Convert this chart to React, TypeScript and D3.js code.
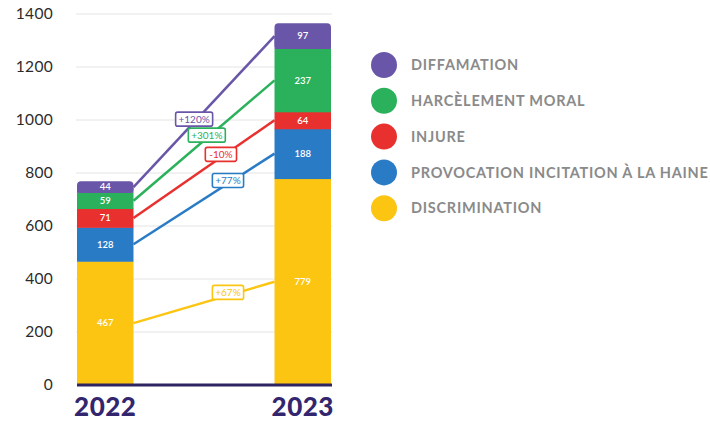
import * as d3 from 'd3';
import { useEffect, useRef } from 'react';

const years = ['2022', '2023'];
const categories = ['DISCRIMINATION', 'PROVOCATION INCITATION À LA HAINE', 'INJURE', 'HARCÈLEMENT MORAL', 'DIFFAMATION'];
const values2022 = [467, 128, 71, 59, 44];
const values2023 = [779, 188, 64, 237, 97];
const changeLabels = ['+67%', '+77%', '-10%', '+301%', '+120%'];
const yTicks = [0, 200, 400, 600, 800, 1000, 1200, 1400];
const legendOrder = ['DIFFAMATION', 'HARCÈLEMENT MORAL', 'INJURE', 'PROVOCATION INCITATION À LA HAINE', 'DISCRIMINATION'];

const colors: Record<string, string> = {
    DISCRIMINATION: '#fbc512',
    'PROVOCATION INCITATION À LA HAINE': '#2a7bc6',
    INJURE: '#e8302f',
    'HARCÈLEMENT MORAL': '#2bb15b',
    DIFFAMATION: '#6a56a8',
};

// where along each connector the change badge sits
const badgeT = [0.67, 0.67, 0.62, 0.52, 0.43];

export default function App() {
    const svgRef = useRef<SVGSVGElement>(null);

    useEffect(() => {
        if (!svgRef.current) return;
        const width = 710;
        const height = 421;
        const svg = d3.select(svgRef.current).attr('width', width).attr('height', height);
        svg.selectAll('*').remove();

        const font = 'Lato, "Open Sans", sans-serif';

        const x = d3.scaleBand<string>().domain(years).range([77, 331]).paddingInner(0.714).paddingOuter(0);
        const y = d3.scaleLinear().domain([0, 1400]).range([385, 14]);

        // grid
        svg.append('g')
            .selectAll('line')
            .data(yTicks.filter((t) => t > 0))
            .join('line')
            .attr('x1', 76)
            .attr('x2', 332)
            .attr('y1', (d) => y(d))
            .attr('y2', (d) => y(d))
            .attr('stroke', '#e4e4e4')
            .attr('stroke-width', 1);

        // y labels
        svg.append('g')
            .selectAll('text')
            .data(yTicks)
            .join('text')
            .attr('x', 53)
            .attr('y', (d) => y(d))
            .attr('dy', '0.35em')
            .attr('text-anchor', 'end')
            .attr('font-family', font)
            .attr('font-size', 15.5)
            .attr('letter-spacing', 0.3)
            .attr('fill', '#2b2b2b')
            .text((d) => d);

        const series = [values2022, values2023];
        const stacks = series.map((vals) => {
            let acc = 0;
            return vals.map((v) => {
                const s = { y0: acc, y1: acc + v, v };
                acc += v;
                return s;
            });
        });

        // bars
        years.forEach((yr, i) => {
            const g = svg.append('g');
            const bx = x(yr)!;
            const bw = x.bandwidth();
            stacks[i].forEach((s, j) => {
                const top = j === stacks[i].length - 1;
                const fill = colors[categories[j]];
                if (top) {
                    g.append('rect')
                        .attr('x', bx)
                        .attr('width', bw)
                        .attr('y', y(s.y1))
                        .attr('height', y(s.y0) - y(s.y1))
                        .attr('rx', 4)
                        .attr('fill', fill);
                    g.append('rect')
                        .attr('x', bx)
                        .attr('width', bw)
                        .attr('y', (y(s.y1) + y(s.y0)) / 2)
                        .attr('height', (y(s.y0) - y(s.y1)) / 2)
                        .attr('fill', fill);
                } else {
                    g.append('rect')
                        .attr('x', bx)
                        .attr('width', bw)
                        .attr('y', y(s.y1))
                        .attr('height', y(s.y0) - y(s.y1) + 0.5)
                        .attr('fill', fill);
                }
                g.append('text')
                    .attr('x', bx + bw / 2)
                    .attr('y', y((s.y0 + s.y1) / 2))
                    .attr('dy', '0.35em')
                    .attr('text-anchor', 'middle')
                    .attr('font-family', font)
                    .attr('font-size', 9.5)
                    .attr('font-weight', 600)
                    .attr('fill', '#fff')
                    .text(s.v);
            });
        });

        // connectors
        const x0 = x('2022')! + x.bandwidth();
        const x1 = x('2023')!;
        categories.forEach((c, j) => {
            const a = stacks[0][j];
            const b = stacks[1][j];
            const ya = y((a.y0 + a.y1) / 2);
            const yb = y((b.y0 + b.y1) / 2);
            svg.append('line')
                .attr('x1', x0)
                .attr('y1', ya)
                .attr('x2', x1)
                .attr('y2', yb)
                .attr('stroke', colors[c])
                .attr('stroke-width', 2.5);
        });
        categories.forEach((c, j) => {
            const a = stacks[0][j];
            const b = stacks[1][j];
            const ya = y((a.y0 + a.y1) / 2);
            const yb = y((b.y0 + b.y1) / 2);
            const t = badgeT[j];
            const cx = x0 + (x1 - x0) * t;
            const cy = ya + (yb - ya) * t - 3;
            const label = changeLabels[j];
            const w = label.length * 5.8 + 8;
            svg.append('rect')
                .attr('x', cx - w / 2)
                .attr('y', cy - 7)
                .attr('width', w)
                .attr('height', 14)
                .attr('rx', 2)
                .attr('fill', '#fff')
                .attr('stroke', colors[c])
                .attr('stroke-width', 1.6);
            svg.append('text')
                .attr('x', cx)
                .attr('y', cy)
                .attr('dy', '0.36em')
                .attr('text-anchor', 'middle')
                .attr('font-family', font)
                .attr('font-size', 10)
                .attr('fill', colors[c])
                .text(label);
        });

        // baseline
        svg.append('line')
            .attr('x1', 77)
            .attr('x2', 332)
            .attr('y1', y(0))
            .attr('y2', y(0))
            .attr('stroke', '#2e2461')
            .attr('stroke-width', 3);

        // year labels
        svg.append('g')
            .selectAll('text')
            .data(years)
            .join('text')
            .attr('x', (d) => x(d)! + x.bandwidth() / 2)
            .attr('y', 416)
            .attr('text-anchor', 'middle')
            .attr('font-family', font)
            .attr('font-size', 26)
            .attr('font-weight', 900)
            .attr('letter-spacing', 0.5)
            .attr('fill', '#33266e')
            .text((d) => d);

        // legend
        const legend = svg.append('g');
        legendOrder.forEach((c, i) => {
            const ly = 65 + i * 35.8;
            legend.append('circle').attr('cx', 384).attr('cy', ly).attr('r', 13).attr('fill', colors[c]);
            legend
                .append('text')
                .attr('x', 411)
                .attr('y', ly)
                .attr('dy', '0.36em')
                .attr('font-family', font)
                .attr('font-size', 14.5)
                .attr('font-weight', 700)
                .attr('letter-spacing', 0.75)
                .attr('fill', '#8a8a8a')
                .text(c);
        });
    }, []);

    return <svg ref={svgRef} style={{ position: 'absolute', left: 0, top: 0, background: '#fff' }} />;
}
